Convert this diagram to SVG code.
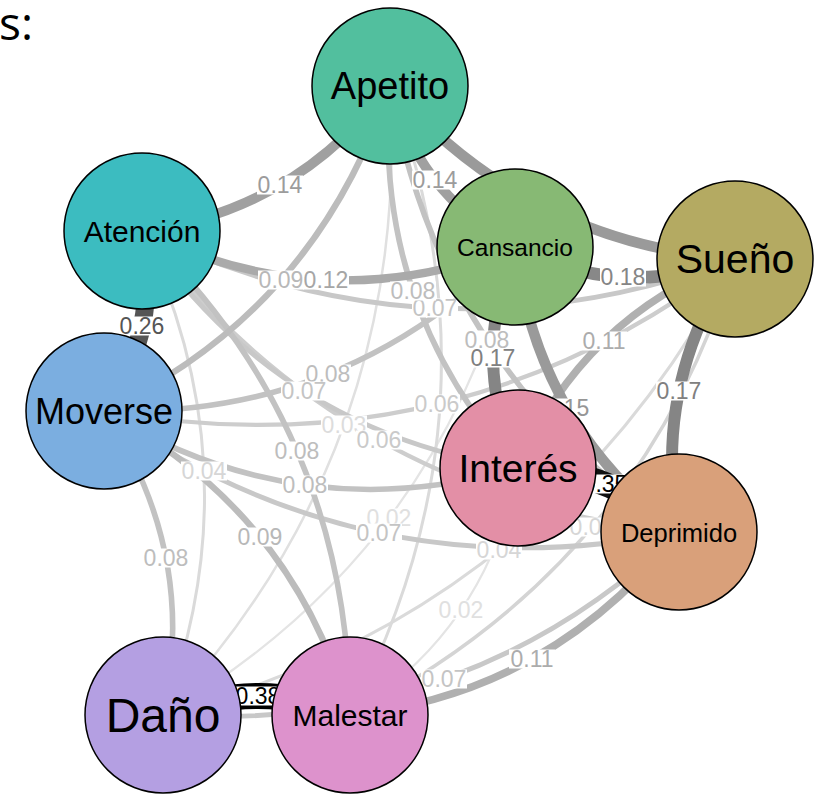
<svg xmlns="http://www.w3.org/2000/svg" width="820" height="794" viewBox="0 0 820 794">
<style>
  .e{fill:none;stroke-linecap:butt}
  .w02{stroke:#e4e4e4;stroke-width:2.2}
  .w03{stroke:#e0e0e0;stroke-width:2.5}
  .w04{stroke:#dadada;stroke-width:3}
  .w05{stroke:#d4d4d4;stroke-width:3.5}
  .w06{stroke:#cdcdcd;stroke-width:4.2}
  .w07{stroke:#c8c8c8;stroke-width:4.9}
  .w08{stroke:#c2c2c2;stroke-width:5.6}
  .w09{stroke:#bcbcbc;stroke-width:6.3}
  .w11{stroke:#b0b0b0;stroke-width:7.7}
  .w12{stroke:#aaaaaa;stroke-width:8.4}
  .w14{stroke:#a0a0a0;stroke-width:9.8}
  .w15{stroke:#9a9a9a;stroke-width:10.5}
  .w17{stroke:#858585;stroke-width:11.9}
  .w18{stroke:#888888;stroke-width:12.6}
  .w26{stroke:#555555;stroke-width:18}
  .w35{stroke:#111111;stroke-width:24}
  .w38{stroke:#000000;stroke-width:26}
  .lb{fill:#ffffff}
  .lt{font-family:"Liberation Sans",Arial,sans-serif;font-size:23px;text-anchor:middle}
  .t02{fill:#e0e0e0}.t03{fill:#dcdcdc}.t04{fill:#d6d6d6}.t06{fill:#cacaca}.t07{fill:#c4c4c4}
  .t08{fill:#bdbdbd}.t09{fill:#b8b8b8}.t11{fill:#acacac}.t12{fill:#a6a6a6}.t14{fill:#9c9c9c}
  .t15{fill:#969696}.t17{fill:#808080}.t18{fill:#858585}.t26{fill:#555555}.t35{fill:#000000}
  .n{stroke:#000000;stroke-width:1.5}
  .nt{font-family:"Liberation Sans",Arial,sans-serif;text-anchor:middle;fill:#000000}
</style>
<text x="-1" y="40" font-family="'Open Sans',sans-serif" font-size="46" fill="#000000">s:</text>
<g id="connectors">
  <path class="e w02" d="M515 247 Q439 555 163 715"/>
  <path class="e w02" d="M518 468 Q488 628.5 350 715"/>
  <path class="e w03" d="M390 86 Q411.5 449.5 163 715"/>
  <path class="e w04" d="M390 86 Q510 409.5 350 715"/>
  <path class="e w04" d="M142 231 Q255.5 469 163 715"/>
  <path class="e w04" d="M735 259 Q549 613 163 715"/>
  <path class="e w05" d="M735 259 Q641.5 567 350 715"/>
  <path class="e w06" d="M142 231 Q347.5 498.5 679 532"/>
  <path class="e w06" d="M735 259 Q454.5 473 104 411"/>
  <path class="e w07" d="M142 231 Q431.5 371 735 259"/>
  <path class="e w07" d="M142 231 Q278 432.5 518 468"/>
  <path class="e w07" d="M104 411 Q366.5 594.5 679 532"/>
  <path class="e w07" d="M679 532 Q467 734.5 163 715"/>
  <path class="e w08" d="M390 86 Q372 305 518 468"/>
  <path class="e w08" d="M390 86 Q439.5 371 679 532"/>
  <path class="e w08" d="M142 231 Q348 429 350 715"/>
  <path class="e w08" d="M515 247 Q346.5 419 104 411"/>
  <path class="e w08" d="M104 411 Q299 530.5 518 468"/>
  <path class="e w08" d="M104 411 Q198.5 553 163 715"/>
  <path class="e w09" d="M390 86 Q315 311.5 104 411"/>
  <path class="e w09" d="M104 411 Q293 511 350 715"/>
  <path class="e w11" d="M735 259 Q581.5 318.5 518 468"/>
  <path class="e w11" d="M679 532 Q549.5 694.5 350 715"/>
  <path class="e w12" d="M142 231 Q323.5 321 515 247"/>
  <path class="e w14" d="M390 86 Q294 211.5 142 231"/>
  <path class="e w14" d="M390 86 Q417.5 193.5 515 247"/>
  <path class="e w15" d="M515 247 Q537 426.5 679 532"/>
  <path class="e w15" d="M390 86 Q527.5 243.5 735 259"/>
  <path class="e w17" d="M515 247 Q469.5 358.5 518 468"/>
  <path class="e w17" d="M735 259 Q651 386.5 679 532"/>
  <path class="e w18" d="M515 247 Q621 301 735 259"/>
  <path class="e w26" d="M142 231 Q161 331 104 411"/>
  <path class="e w35" d="M518 468 Q611.5 468 679 532"/>
  <path class="e w38" d="M163 715 Q259.5 677 350 715"/>
</g>
<g id="edge-labels">
  <rect class="lb" x="366" y="508.5" width="46" height="19"/><text class="lt t02" x="389" y="526.3">0.02</text>
  <rect class="lb" x="438" y="600.5" width="46" height="19"/><text class="lt t02" x="461" y="618.3">0.02</text>
  <rect class="lb" x="321" y="415.5" width="46" height="19"/><text class="lt t03" x="344" y="433.3">0.03</text>
  <rect class="lb" x="181" y="461.5" width="46" height="19"/><text class="lt t04" x="204" y="479.3">0.04</text>
  <rect class="lb" x="476" y="540.5" width="46" height="19"/><text class="lt t04" x="499" y="558.3">0.04</text>
  <rect class="lb" x="569" y="517.5" width="46" height="19"/><text class="lt t04" x="592" y="535.3">0.05</text>
  <rect class="lb" x="356" y="430.5" width="46" height="19"/><text class="lt t06" x="379" y="448.3">0.06</text>
  <rect class="lb" x="414" y="394.5" width="46" height="19"/><text class="lt t06" x="437" y="412.3">0.06</text>
  <rect class="lb" x="412" y="298.5" width="46" height="19"/><text class="lt t07" x="435" y="316.3">0.07</text>
  <rect class="lb" x="356" y="523.5" width="46" height="19"/><text class="lt t07" x="379" y="541.3">0.07</text>
  <rect class="lb" x="421" y="669.5" width="46" height="19"/><text class="lt t07" x="444" y="687.3">0.07</text>
  <rect class="lb" x="390" y="281.5" width="46" height="19"/><text class="lt t08" x="413" y="299.3">0.08</text>
  <rect class="lb" x="464" y="330.5" width="46" height="19"/><text class="lt t08" x="487" y="348.3">0.08</text>
  <rect class="lb" x="305" y="364.5" width="46" height="19"/><text class="lt t08" x="328" y="382.3">0.08</text>
  <rect class="lb" x="281" y="381.5" width="46" height="19"/><text class="lt t07" x="304" y="399.3">0.07</text>
  <rect class="lb" x="274" y="441.5" width="46" height="19"/><text class="lt t08" x="297" y="459.3">0.08</text>
  <rect class="lb" x="282" y="475.5" width="46" height="19"/><text class="lt t08" x="305" y="493.3">0.08</text>
  <rect class="lb" x="143" y="548.5" width="46" height="19"/><text class="lt t08" x="166" y="566.3">0.08</text>
  <rect class="lb" x="258" y="270.5" width="46" height="19"/><text class="lt t09" x="281" y="288.3">0.09</text>
  <rect class="lb" x="237" y="527.5" width="46" height="19"/><text class="lt t09" x="260" y="545.3">0.09</text>
  <rect class="lb" x="581" y="331.5" width="46" height="19"/><text class="lt t11" x="604" y="349.3">0.11</text>
  <rect class="lb" x="509" y="649.5" width="46" height="19"/><text class="lt t11" x="532" y="667.3">0.11</text>
  <rect class="lb" x="303" y="270.5" width="46" height="19"/><text class="lt t12" x="326" y="288.3">0.12</text>
  <rect class="lb" x="257" y="175.5" width="46" height="19"/><text class="lt t14" x="280" y="193.3">0.14</text>
  <rect class="lb" x="412" y="170.5" width="46" height="19"/><text class="lt t14" x="435" y="188.3">0.14</text>
  <rect class="lb" x="544" y="398.5" width="46" height="19"/><text class="lt t15" x="567" y="416.3">0.15</text>
  <rect class="lb" x="470" y="348.5" width="46" height="19"/><text class="lt t17" x="493" y="366.3">0.17</text>
  <rect class="lb" x="656" y="381.5" width="46" height="19"/><text class="lt t17" x="679" y="399.3">0.17</text>
  <rect class="lb" x="600" y="267.5" width="46" height="19"/><text class="lt t18" x="623" y="285.3">0.18</text>
  <rect class="lb" x="119" y="316.5" width="46" height="19"/><text class="lt t26" x="142" y="334.3">0.26</text>
  <rect class="lb" x="582" y="474.5" width="46" height="19"/><text class="lt t35" x="605" y="492.3">0.35</text>
  <rect class="lb" x="235" y="686.5" width="46" height="19"/><text class="lt t35" x="258" y="704.3">0.38</text>
</g>
<g id="node-apetito"><circle class="n" cx="390" cy="86" r="78" fill="#52BF9E"/><text class="nt" x="390" y="99" font-size="38">Apetito</text></g>
<g id="node-atencion"><circle class="n" cx="142" cy="231" r="78" fill="#3CBCC0"/><text class="nt" x="142" y="241.5" font-size="30">Atención</text></g>
<g id="node-cansancio"><circle class="n" cx="515" cy="247" r="78" fill="#87B974"/><text class="nt" x="515" y="255.5" font-size="24.5">Cansancio</text></g>
<g id="node-sueno"><circle class="n" cx="735" cy="259" r="78" fill="#B4AA62"/><text class="nt" x="735" y="273" font-size="41">Sueño</text></g>
<g id="node-moverse"><circle class="n" cx="104" cy="411" r="78" fill="#7BAEE0"/><text class="nt" x="104" y="424" font-size="36">Moverse</text></g>
<g id="node-interes"><circle class="n" cx="518" cy="468" r="78" fill="#E38FA6"/><text class="nt" x="518" y="482" font-size="39">Interés</text></g>
<g id="node-deprimido"><circle class="n" cx="679" cy="532" r="78" fill="#D9A07A"/><text class="nt" x="679" y="542" font-size="25.5">Deprimido</text></g>
<g id="node-dano"><circle class="n" cx="163" cy="715" r="78" fill="#B49FE2"/><text class="nt" x="163" y="732" font-size="48">Daño</text></g>
<g id="node-malestar"><circle class="n" cx="350" cy="715" r="78" fill="#DD92CC"/><text class="nt" x="350" y="725.5" font-size="30">Malestar</text></g>
</svg>
